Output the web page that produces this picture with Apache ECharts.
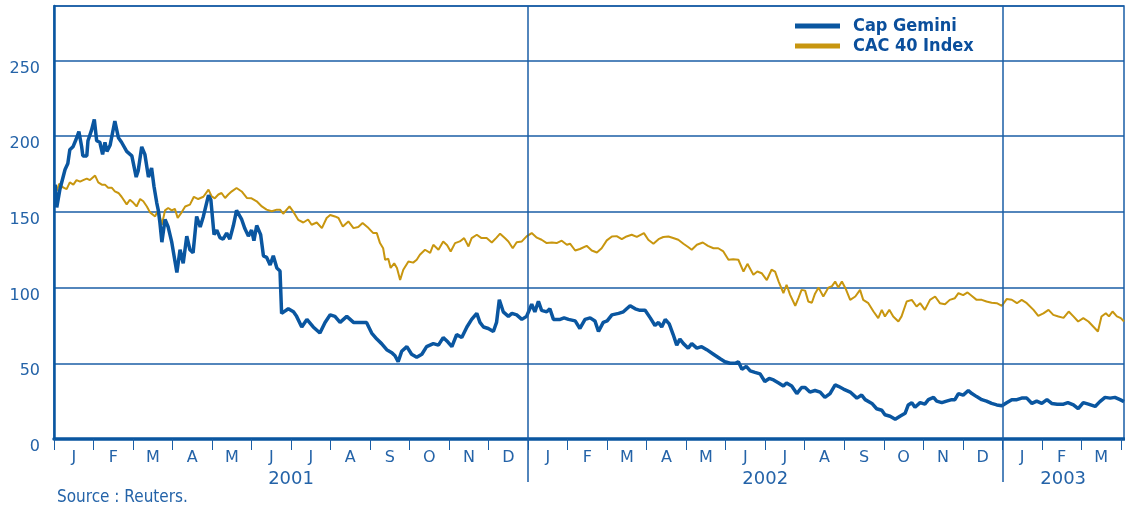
<!DOCTYPE html>
<html>
<head>
<meta charset="utf-8">
<script src="https://cdn.jsdelivr.net/npm/echarts@6/dist/echarts.min.js"></script>
<style>
html,body{margin:0;padding:0;background:#fff;}
#chart{width:1125px;height:509px;}
</style>
</head>
<body>
<div id="chart"></div>
<script>
// time in months since 1 Jan 2001, value
const capGemini = [
[0.03,168],[0.07,153],[0.15,165],[0.28,178],[0.35,182],[0.40,191],[0.48,193],[0.56,198],[0.63,203],[0.70,193],
[0.73,187],[0.83,187],[0.86,197],[0.95,204],[1.02,211],[1.08,197],[1.16,196],[1.23,188],[1.29,196],[1.34,190],
[1.42,194],[1.54,210],[1.63,199],[1.71,196],[1.84,190],[1.97,187],[2.08,173],[2.13,177],[2.22,193],[2.30,188],
[2.39,173],[2.47,179],[2.53,167],[2.60,156],[2.64,151],[2.68,143],[2.73,130],[2.81,145],[2.89,140],[2.98,130],
[3.11,110],[3.19,125],[3.27,116],[3.36,134],[3.44,125],[3.52,123],[3.61,147],[3.70,140],[3.78,147],[3.91,161],
[3.97,158],[4.05,135],[4.12,138],[4.20,133],[4.28,132],[4.37,136],[4.45,132],[4.54,141],[4.62,151],[4.75,145],
[4.83,139],[4.92,134],[5.00,138],[5.06,131],[5.13,141],[5.23,135],[5.30,121],[5.38,120],[5.47,115],[5.55,121],
[5.64,113],[5.72,111],[5.76,83],[5.80,82],[5.93,86],[6.06,84],[6.14,81],[6.27,74],[6.40,79],[6.56,74],
[6.73,70],[6.86,77],[6.99,82],[7.11,81],[7.24,77],[7.41,81],[7.58,77],[7.74,77],[7.91,77],[8.04,70],
[8.17,66],[8.29,63],[8.42,59],[8.55,57],[8.63,55],[8.71,51],[8.80,58],[8.93,61],[9.05,56],[9.18,54],
[9.31,56],[9.43,61],[9.60,63],[9.73,62],[9.85,67],[9.97,64],[10.07,61],[10.19,69],[10.32,67],[10.45,74],
[10.57,79],[10.70,83],[10.78,77],[10.87,74],[10.99,73],[11.12,71],[11.20,77],[11.27,92],[11.37,84],[11.50,81],
[11.59,83],[11.71,82],[11.84,79],[11.96,81],[12.09,89],[12.17,84],[12.26,91],[12.34,85],[12.47,84],[12.55,86],
[12.64,79],[12.81,79],[12.91,80],[13.02,79],[13.19,78],[13.31,73],[13.44,79],[13.57,80],[13.69,78],[13.78,71],
[13.90,77],[14.00,78],[14.12,82],[14.29,83],[14.41,84],[14.58,88],[14.71,86],[14.83,85],[14.96,85],[15.09,80],
[15.21,75],[15.30,77],[15.38,74],[15.47,79],[15.57,76],[15.67,69],[15.76,62],[15.84,66],[15.93,63],[16.05,60],
[16.14,63],[16.27,60],[16.39,61],[16.52,59],[16.69,56],[16.86,53],[16.98,51],[17.11,50],[17.24,50],[17.32,51],
[17.41,46],[17.52,48],[17.62,45],[17.74,44],[17.87,43],[17.99,38],[18.10,40],[18.21,39],[18.34,37],[18.46,35],
[18.54,37],[18.67,35],[18.80,30],[18.92,34],[19.01,34],[19.13,31],[19.26,32],[19.39,31],[19.51,27.5],[19.64,30],
[19.77,35.7],[19.85,34.8],[19.98,33],[20.15,31],[20.32,27],[20.44,29],[20.53,26],[20.70,23.5],[20.82,20],[20.95,19],
[21.03,16],[21.16,15],[21.29,13],[21.41,15],[21.54,17],[21.62,22.5],[21.71,24],[21.79,21],[21.92,24],[22.04,23],
[22.13,26],[22.26,27.5],[22.34,25],[22.47,24],[22.59,25],[22.72,26],[22.80,26],[22.89,30],[23.01,29],[23.14,32],
[23.23,30],[23.35,28],[23.48,26],[23.60,25],[23.73,23.5],[23.86,22.5],[23.99,22],[24.11,24],[24.24,26],[24.37,26],
[24.49,27],[24.62,27],[24.75,23.5],[24.87,25],[25.00,23.5],[25.13,26],[25.25,23.5],[25.39,23],[25.55,23],[25.66,24],
[25.80,22.5],[25.92,20],[26.05,24],[26.18,23],[26.35,21.5],[26.47,24.7],[26.60,27.5],[26.73,27],[26.85,27.5],[26.98,26],
[27.08,24.7]
];
const cac40 = [
[0.03,167],[0.07,164],[0.13,168.6],[0.24,166],[0.32,165],[0.40,169.5],[0.49,168],[0.57,171],[0.66,170],[0.74,171],
[0.83,172],[0.91,171],[1.04,174],[1.12,169.5],[1.21,168],[1.29,168],[1.37,166],[1.46,166],[1.54,163.6],[1.63,162.5],
[1.71,160],[1.84,155],[1.92,158],[2.01,156],[2.09,153.6],[2.18,158.5],[2.26,157],[2.35,153.6],[2.43,149.7],[2.56,147],
[2.64,151.5],[2.73,141.5],[2.81,151],[2.89,152.6],[2.98,151],[3.06,152],[3.13,146],[3.23,149.7],[3.32,153.6],[3.44,154.8],
[3.54,160],[3.65,158.5],[3.78,160],[3.91,164.7],[3.99,160.3],[4.07,159],[4.16,161.5],[4.24,162.5],[4.33,159.2],[4.41,161.5],
[4.50,163.6],[4.62,165.8],[4.75,163.5],[4.88,159.2],[5.00,159],[5.13,157],[5.26,153.6],[5.38,151.5],[5.51,150.4],[5.64,151.5],
[5.72,151.5],[5.80,148.8],[5.96,153.6],[6.06,150],[6.18,144.8],[6.31,143],[6.43,145],[6.52,141.5],[6.65,143],[6.78,139.3],
[6.90,146],[6.99,148],[7.11,147],[7.20,146],[7.31,140.3],[7.45,143.7],[7.58,139.3],[7.70,140],[7.81,142.6],[7.96,139.3],
[8.08,136],[8.17,136],[8.25,129.4],[8.33,126],[8.38,118.4],[8.46,119],[8.52,113],[8.61,116],[8.68,113],[8.76,105],
[8.84,111.8],[8.97,117.3],[9.09,116.5],[9.18,118.4],[9.26,121.7],[9.39,125],[9.52,123],[9.60,128.3],[9.73,125],[9.85,130.5],
[9.95,128],[10.04,123.9],[10.15,129.4],[10.27,130.5],[10.38,132.7],[10.49,127.2],[10.57,132.7],[10.70,134.9],[10.82,132.7],[10.95,132.7],
[11.08,129.8],[11.20,133],[11.29,135.6],[11.41,132.7],[11.50,130.5],[11.61,126],[11.71,130],[11.84,130.5],[11.96,133.8],[12.09,136],
[12.22,133],[12.34,131.6],[12.47,129.4],[12.60,129.8],[12.72,129.4],[12.85,131],[12.98,128.3],[13.06,129],[13.19,124.5],[13.31,125.5],
[13.48,127.6],[13.61,124.5],[13.74,123.2],[13.86,126],[13.99,131.2],[14.12,133.8],[14.24,134],[14.37,132],[14.49,133.8],[14.62,134.9],
[14.75,133.5],[14.93,136],[15.04,131.6],[15.17,129],[15.30,132],[15.42,133.4],[15.55,133.8],[15.67,132.8],[15.80,131.6],[15.93,129],
[16.04,127],[16.14,125],[16.27,128.3],[16.42,129.8],[16.55,127.6],[16.69,126],[16.81,126],[16.94,123.9],[17.07,118.4],[17.19,118.8],
[17.32,118.4],[17.45,110.6],[17.55,115.7],[17.70,108.5],[17.80,110.6],[17.91,109.5],[18.04,105],[18.16,111.8],[18.25,110.6],[18.34,104],
[18.46,96.3],[18.54,101.9],[18.63,95.2],[18.76,88],[18.84,93],[18.92,98.5],[19.01,98],[19.09,90.8],[19.18,90],[19.26,96],
[19.35,100],[19.47,94.1],[19.60,100],[19.69,101],[19.77,104],[19.85,100],[19.94,104],[20.03,99.6],[20.15,91.9],[20.28,94.1],
[20.40,98.5],[20.48,91.9],[20.61,89.7],[20.74,84.2],[20.86,79.8],[20.95,85.3],[21.03,80.9],[21.14,85.3],[21.24,80.9],[21.37,77.6],
[21.45,81],[21.58,90.8],[21.71,91.9],[21.83,87.5],[21.92,89.7],[22.04,85.3],[22.17,91.9],[22.30,94.1],[22.42,89.7],[22.55,89],
[22.67,91.9],[22.80,93],[22.89,96.3],[23.01,95],[23.12,96.8],[23.23,94.5],[23.35,91.9],[23.48,91.9],[23.60,90.8],[23.73,90],
[23.86,89.7],[23.99,88],[24.11,92.4],[24.24,92],[24.37,89.7],[24.49,91.9],[24.62,89.7],[24.79,85.3],[24.91,81.3],[25.04,83],
[25.17,85.3],[25.29,82],[25.42,80.9],[25.55,80],[25.68,84.2],[25.80,81],[25.92,77.6],[26.05,79.8],[26.18,77.6],[26.30,74.3],
[26.42,71],[26.51,80.9],[26.62,83.1],[26.70,81],[26.79,84.2],[26.90,81],[27.00,79.8],[27.08,77.6]
];
const monthLetters = ['J','F','M','A','M','J','J','A','S','O','N','D'];
const years = ['2001','2002','2003'];
const yTicks = [0,50,100,150,200,250];
const seriesNames = ['Cap Gemini','CAC 40 Index'];
const sourceText = 'Source : Reuters.';

const BLUE = '#0a56a0';
const GRID = '#1a5ea6';
const LABEL = '#2463a8';
const GOLD = '#c8960f';
const NARROW = "'Liberation Sans Narrow','DejaVu Sans Condensed',sans-serif";
const XMAX = 27.08;

const monthCenters = [];
for (let i = 0; i < 27; i++) monthCenters.push(i + 0.5);
const monthBounds = [];
for (let i = 0; i <= 27; i++) monthBounds.push(i);
const yearCenters = [6, 18, (24 + XMAX) / 2];

const chart = echarts.init(document.getElementById('chart'), null, {renderer: 'canvas'});
chart.setOption({
  animation: false,
  backgroundColor: '#ffffff',
  title: {
    text: sourceText, left: 52, top: 484,
    textStyle: {fontFamily: NARROW, fontSize: 17, fontWeight: 'normal', color: LABEL}
  },
  legend: {
    data: seriesNames, orient: 'vertical', left: 790, top: 12,
    icon: 'rect', itemWidth: 45, itemHeight: 5, itemGap: 2,
    textStyle: {fontFamily: NARROW, fontWeight: 'bold', fontSize: 18, lineHeight: 18, color: '#0b4f9c', padding: [0,0,0,8]}
  },
  grid: {left: 54, right: 1, top: 6, bottom: 70, show: true, borderColor: GRID, borderWidth: 1.5, containLabel: false},
  xAxis: [{
    type: 'value', min: 0, max: XMAX,
    axisLine: {show: true, lineStyle: {color: BLUE, width: 3.5}},
    axisTick: {show: true, customValues: monthBounds, length: 11, lineStyle: {color: GRID, width: 1}},
    axisLabel: {show: true, customValues: monthCenters, margin: 11, fontSize: 16, color: LABEL,
      fontFamily: "'DejaVu Sans',sans-serif",
      formatter: v => monthLetters[Math.floor(v) % 12]},
    splitLine: {show: false}
  }, {
    type: 'value', min: 0, max: XMAX, position: 'bottom',
    axisLine: {show: false},
    axisTick: {show: true, customValues: [12, 24], length: 43, lineStyle: {color: GRID, width: 1.5}},
    axisLabel: {show: true, customValues: yearCenters, margin: 31, fontSize: 18, color: LABEL,
      fontFamily: "'DejaVu Sans',sans-serif",
      formatter: v => years[Math.floor(v / 12)]},
    splitLine: {show: false}
  }],
  yAxis: {
    type: 'value', min: 0, max: 286, interval: 50,
    axisLine: {show: true, lineStyle: {color: BLUE, width: 2.5}},
    axisTick: {show: false},
    axisLabel: {margin: 14, fontSize: 16, color: LABEL, fontFamily: "'DejaVu Sans',sans-serif",
      verticalAlign: 'top',
      formatter: v => yTicks.indexOf(v) >= 0 ? String(v) : ''},
    splitLine: {show: true, lineStyle: {color: GRID, width: 1.5}}
  },
  series: [{
    name: seriesNames[1], type: 'line', data: cac40, showSymbol: false, symbol: 'none',
    lineStyle: {color: GOLD, width: 2}, itemStyle: {color: GOLD}, z: 3,
    markLine: {
      silent: true, symbol: ['none', 'none'], label: {show: false},
      lineStyle: {color: GRID, width: 1.5, type: 'solid'},
      data: [{xAxis: 12}, {xAxis: 24}]
    }
  }, {
    name: seriesNames[0], type: 'line', data: capGemini, showSymbol: false, symbol: 'none',
    lineStyle: {color: BLUE, width: 3.5}, itemStyle: {color: BLUE}, z: 4
  }]
});
</script>
</body>
</html>
